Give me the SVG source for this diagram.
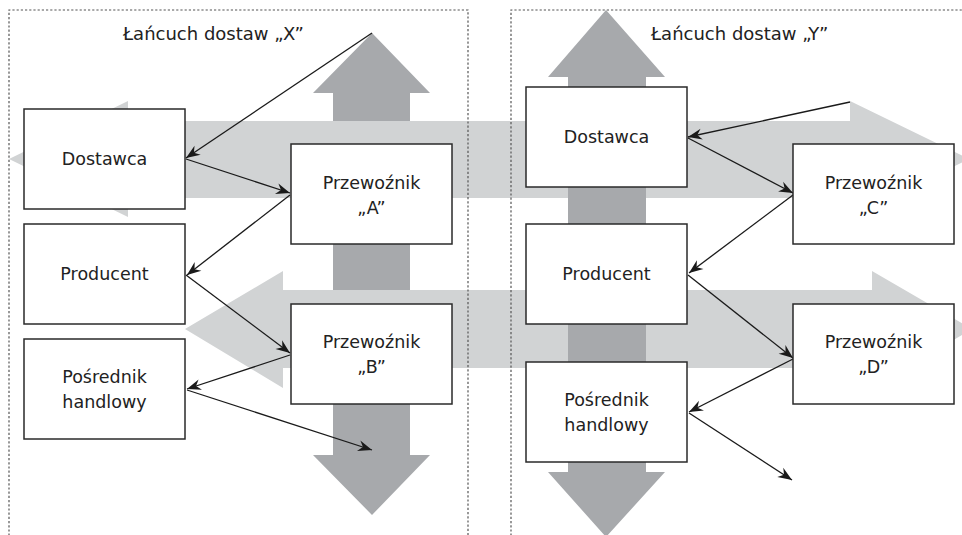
<svg xmlns="http://www.w3.org/2000/svg" width="962" height="535" viewBox="0 0 962 535">
<style>
.dark{fill:#a7a9ac}
.light{fill:#d1d3d4}
.frame{fill:none;stroke:#555;stroke-width:1.2;stroke-dasharray:2.2 2}
.box{fill:#fff;stroke:#2a2a2a;stroke-width:1.5}
.conn{stroke:#1a1a1a;stroke-width:1.3;fill:none;marker-end:url(#ah)}
text{font-family:"DejaVu Sans","Liberation Sans",sans-serif;fill:#222;font-size:17.5px}
.t{text-anchor:middle}
.title{font-size:18px}
</style>
<defs>
<marker id="ah" viewBox="-15 -7 16 14" refX="0" refY="0" markerWidth="16" markerHeight="14" markerUnits="userSpaceOnUse" orient="auto">
<path d="M0,0 L-14,-5.5 L-9.5,0 L-14,5.5 Z" fill="#1a1a1a"/>
</marker>
</defs>
<g id="flows">
<polygon id="flowX-vertical" class="dark" points="372,33 430,93 410,93 410,455 430,455 372,515 313,455 333,455 333,93 313,93"/>
<polygon id="flow-top" class="light" points="9,159 128,101 128,121 850,121 850,101 969,159 850,217 850,198 128,198 128,217"/>
<polygon id="flow-bottom" class="light" points="185,329 283,271 283,290 872,290 872,271 972,329 872,388 872,368 283,368 283,388"/>
<polygon id="flowY-vertical" class="dark" points="606,10 665,77 646,77 646,472 665,472 606,537 548,472 568,472 568,77 548,77"/>
</g>
<g id="frames">
<path class="frame" d="M9,540 V10 H468 V540"/>
<path class="frame" d="M511,540 V10 H965"/>
<text class="title" x="123" y="40">Łańcuch dostaw „X”</text>
<text class="title" x="651" y="40">Łańcuch dostaw „Y”</text>
</g>
<g id="connectors">
<line class="conn" x1="372" y1="33" x2="186" y2="158"/>
<line class="conn" x1="186" y1="159" x2="290" y2="193"/>
<line class="conn" x1="290" y1="195" x2="187" y2="275"/>
<line class="conn" x1="186" y1="275" x2="290" y2="353"/>
<line class="conn" x1="290" y1="355" x2="187" y2="389"/>
<line class="conn" x1="187" y1="390" x2="372" y2="450"/>
<line class="conn" x1="850" y1="102" x2="688" y2="137"/>
<line class="conn" x1="688" y1="138" x2="793" y2="193"/>
<line class="conn" x1="793" y1="195" x2="689" y2="273"/>
<line class="conn" x1="688" y1="275" x2="793" y2="358"/>
<line class="conn" x1="793" y1="359" x2="689" y2="412"/>
<line class="conn" x1="689" y1="413" x2="792" y2="480"/>
</g>
<g id="dostawca-x"><rect class="box" x="24" y="109" width="161" height="100"/><text class="t" x="104.5" y="165">Dostawca</text></g>
<g id="producent-x"><rect class="box" x="24" y="224" width="161" height="100"/><text class="t" x="104.5" y="280">Producent</text></g>
<g id="posrednik-x"><rect class="box" x="24" y="339" width="161" height="100"/><text class="t" x="104.5" y="383">Pośrednik</text><text class="t" x="104.5" y="408">handlowy</text></g>
<g id="przewoznik-a"><rect class="box" x="291" y="144" width="161" height="100"/><text class="t" x="371.5" y="189">Przewoźnik</text><text class="t" x="371.5" y="214">„A”</text></g>
<g id="przewoznik-b"><rect class="box" x="291" y="304" width="161" height="100"/><text class="t" x="371.5" y="348">Przewoźnik</text><text class="t" x="371.5" y="373">„B”</text></g>
<g id="dostawca-y"><rect class="box" x="526" y="87" width="161" height="100"/><text class="t" x="606.5" y="143">Dostawca</text></g>
<g id="producent-y"><rect class="box" x="526" y="224" width="161" height="100"/><text class="t" x="606.5" y="280">Producent</text></g>
<g id="posrednik-y"><rect class="box" x="526" y="362" width="161" height="100"/><text class="t" x="606.5" y="406">Pośrednik</text><text class="t" x="606.5" y="431">handlowy</text></g>
<g id="przewoznik-c"><rect class="box" x="793" y="144" width="161" height="100"/><text class="t" x="873.5" y="189">Przewoźnik</text><text class="t" x="873.5" y="214">„C”</text></g>
<g id="przewoznik-d"><rect class="box" x="793" y="304" width="161" height="100"/><text class="t" x="873.5" y="348">Przewoźnik</text><text class="t" x="873.5" y="373">„D”</text></g>
</svg>
